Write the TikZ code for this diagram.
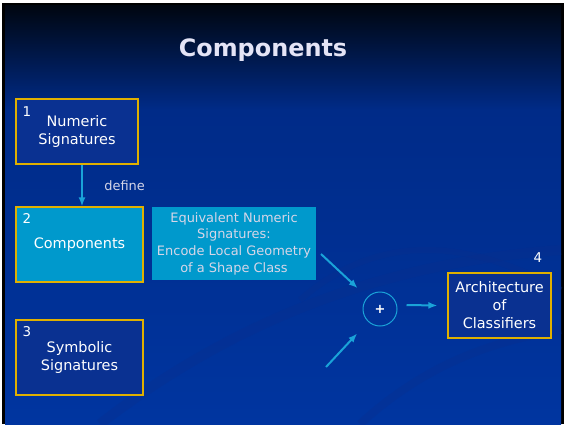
\documentclass[tikz,border=0pt]{standalone}
\usepackage{fontspec}
\setmainfont{DejaVu Sans}
\usetikzlibrary{arrows.meta}
\definecolor{bgtop}{HTML}{000610}
\definecolor{bgmid}{HTML}{002B88}
\definecolor{bgbot}{HTML}{0035A0}
\definecolor{cyanbox}{HTML}{0099CC}
\definecolor{gold}{HTML}{E0B000}
\definecolor{darkbox}{HTML}{0A3191}
\definecolor{arrowc}{HTML}{1AA3D8}
\definecolor{lav}{HTML}{E4E4F6}
\definecolor{soft}{HTML}{D6D6E8}
\definecolor{swoosh}{HTML}{0A2E8C}
\tikzset{
  numbox/.style={draw=gold, line width=1.2bp, rectangle, align=center, text=white,
    font=\fontsize{14.5}{18}\selectfont, inner sep=0pt},
  numlabel/.style={text=white, font=\fontsize{13.5}{15}\selectfont, inner sep=0pt},
  arr/.style={draw=arrowc, line width=2bp, -{Latex[length=9bp,width=7bp]}},
}
\begin{document}
\begin{tikzpicture}[x=1bp,y=-1bp]
\useasboundingbox (0,0) rectangle (565,424);
\fill[white] (0,0) rectangle (565,424);
\fill[black] (2,3) rectangle (564,424);
\shade[top color=bgtop,bottom color=bgmid] (5,5) rectangle (561,110);
\shade[top color=bgmid,bottom color=bgbot] (5,110) rectangle (561,424);
% faint background swooshes
\begin{scope}[opacity=0.3]
\draw[swoosh, line width=10bp] (100,424) .. controls (260,300) and (420,260) .. (561,250);
\draw[swoosh, line width=6bp] (300,300) .. controls (380,230) and (470,240) .. (561,290);
\draw[swoosh, line width=8bp] (360,424) .. controls (430,360) and (500,340) .. (561,330);
\end{scope}

% title
\node[text=lav, font=\fontsize{24}{28}\selectfont\bfseries] (title) at (263,50) {Components};

% boxes
\node[numbox, fill=darkbox, minimum width=122bp, minimum height=65bp] (box1) at (77,131.5) {Numeric\\Signatures};
\node[numbox, fill=cyanbox, minimum width=127bp, minimum height=75bp] (box2) at (79.5,244.5) {Components};
\node[numbox, fill=darkbox, minimum width=127bp, minimum height=75bp] (box3) at (79.5,357.5) {Symbolic\\Signatures};
\node[numbox, fill=darkbox, minimum width=103bp, minimum height=65bp] (box4) at (499.5,305.5) {Architecture\\of\\Classifiers};
\node[rectangle, fill=cyanbox, minimum width=164bp, minimum height=73bp, align=center,
  text=soft, font=\fontsize{13}{16.7}\selectfont, inner sep=0pt] (eq) at (234,243.5)
  {Equivalent Numeric\\Signatures:\\Encode Local Geometry\\of a Shape Class};

% number labels
\node[numlabel] (n1) at (27,112) {1};
\node[numlabel] (n2) at (27,219) {2};
\node[numlabel] (n3) at (27,332) {3};
\node[numlabel] (n4) at (538,258) {4};

% combiner
\node[circle, draw=arrowc, line width=1bp, minimum size=34bp, inner sep=0pt,
  text=white, font=\fontsize{13}{15}\selectfont\bfseries] (plus) at (380,309) {+};

% connectors
\draw[arr] ([xshift=5bp]box1.south) -- ([xshift=5bp]box1.south |- box2.north)
  node[midway, right=18bp, text=soft, font=\fontsize{13}{15}\selectfont] (deflabel) {define};
\coordinate (a1) at (321,254);
\coordinate (a2) at (326,367);
\draw[arr, shorten >=13bp] (a1) -- (plus);
\draw[arr, shorten >=16bp] (a2) -- (plus);
\draw[arr] ([xshift=9bp,yshift=4bp]plus.east) -- ([xshift=-10bp]box4.west);
\end{tikzpicture}
\end{document}
